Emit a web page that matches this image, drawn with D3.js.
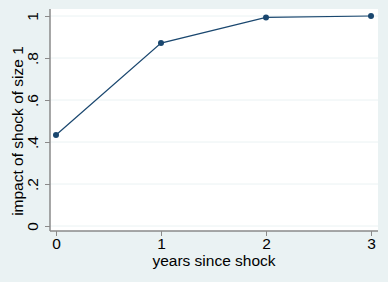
<!DOCTYPE html>
<html>
<head>
<meta charset="utf-8">
<script src="https://cdn.jsdelivr.net/npm/d3@7"></script>
<style>
  body { margin: 0; background: #eaf2f3; }
  svg { display: block; font-family: "Liberation Sans", Arial, sans-serif; }
</style>
</head>
<body>
<div id="chart"></div>
<script>
// DATA
let years = [0, 1, 2, 3];
let impact = [0.433, 0.871, 0.993, 1.0];
let yTicks = [0, 0.2, 0.4, 0.6, 0.8, 1];
let yTickLabels = ["0", ".2", ".4", ".6", ".8", "1"];

// CHART AREA
let W = 388, H = 282;
let margin = {top: 9, right: 10, bottom: 51, left: 50};

let svg = d3.select("#chart").append("svg")
    .attr("width", W)
    .attr("height", H);

svg.append("rect")
    .attr("width", W).attr("height", H)
    .attr("fill", "#eaf2f3");

// plot region
svg.append("rect")
    .attr("x", margin.left)
    .attr("y", margin.top)
    .attr("width", W - margin.left - margin.right)
    .attr("height", H - margin.top - margin.bottom)
    .attr("fill", "#ffffff");

// SCALES
let x = d3.scaleLinear().domain([0, 3]).range([56, 371]);
let y = d3.scaleLinear().domain([0, 1]).range([226, 16]);

// gridlines
svg.append("g")
    .selectAll("line")
    .data(yTicks)
    .enter().append("line")
    .attr("x1", margin.left)
    .attr("x2", W - margin.right)
    .attr("y1", d => y(d))
    .attr("y2", d => y(d))
    .attr("stroke", "#eaf2f3")
    .attr("stroke-width", 1);

// AXES
let yAxis = d3.axisLeft(y)
    .tickValues(yTicks)
    .tickFormat((d, i) => yTickLabels[i])
    .tickSize(5)
    .tickPadding(3);

let yAxisGroup = svg.append("g")
    .attr("transform", "translate(" + margin.left + ",0)")
    .call(yAxis);

yAxisGroup.select(".domain")
    .attr("d", "M0," + margin.top + "V" + (H - margin.bottom));

yAxisGroup.selectAll("text")
    .attr("transform", "rotate(-90)")
    .attr("x", 0)
    .attr("y", -17)
    .attr("dy", "0.35em")
    .style("text-anchor", "middle");

let xAxis = d3.axisBottom(x)
    .tickValues(years)
    .tickFormat(d3.format("d"))
    .tickSize(5)
    .tickPadding(2);

let xAxisGroup = svg.append("g")
    .attr("transform", "translate(0," + (H - margin.bottom) + ")")
    .call(xAxis);

xAxisGroup.select(".domain")
    .attr("d", "M" + margin.left + ",0H" + (W - margin.right));

[yAxisGroup, xAxisGroup].forEach(g => {
    g.select(".domain").attr("stroke", "#8a8a8a").attr("stroke-width", 1.5);
    g.selectAll(".tick line").attr("stroke", "#8a8a8a");
    g.selectAll("text").attr("fill", "#000").style("font-size", "15.5px")
        .style("font-family", "Liberation Sans, Arial, sans-serif");
});

// axis titles
svg.append("text")
    .attr("x", 214)
    .attr("y", 266)
    .attr("text-anchor", "middle")
    .style("font-size", "15.5px")
    .text("years since shock");

svg.append("text")
    .attr("transform", "translate(23,131) rotate(-90)")
    .attr("text-anchor", "middle")
    .style("font-size", "15.5px")
    .text("impact of shock of size 1");

// LINE
let pts = years.map((d, i) => ({year: d, value: impact[i]}));

svg.append("path")
    .datum(pts)
    .attr("fill", "none")
    .attr("stroke", "#1a476f")
    .attr("stroke-width", 1.2)
    .attr("d", d3.line().x(d => x(d.year)).y(d => y(d.value)));

svg.selectAll(".dot")
    .data(pts)
    .enter().append("circle")
    .attr("class", "dot")
    .attr("cx", d => x(d.year))
    .attr("cy", d => y(d.value))
    .attr("r", 3)
    .attr("fill", "#1a476f");
</script>
</body>
</html>
